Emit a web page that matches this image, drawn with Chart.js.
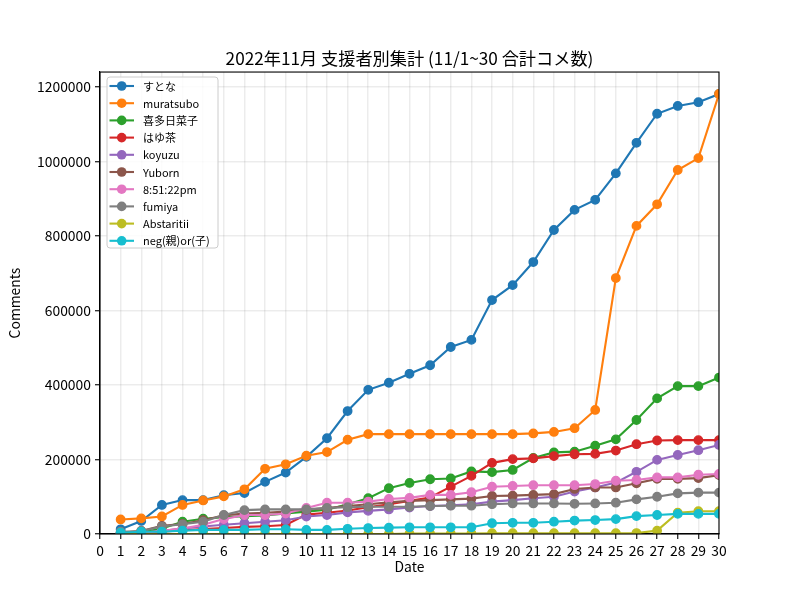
<!DOCTYPE html>
<html>
<head>
<meta charset="utf-8">
<script src="https://cdn.jsdelivr.net/npm/chart.js@4"></script>
<style>
  html, body { margin: 0; padding: 0; background: #fff; }
  #wrap { width: 800px; height: 600px; }
</style>
</head>
<body>
<div id="wrap"><canvas id="c" width="800" height="600"></canvas></div>
<script>
const days = [1,2,3,4,5,6,7,8,9,10,11,12,13,14,15,16,17,18,19,20,21,22,23,24,25,26,27,28,29,30];
const xTicks = [0,1,2,3,4,5,6,7,8,9,10,11,12,13,14,15,16,17,18,19,20,21,22,23,24,25,26,27,28,29,30];
const yTicks = [0,200000,400000,600000,800000,1000000,1200000];
const seriesNames = ['すとな','muratsubo','喜多日菜子','はゆ茶','koyuzu','Yuborn','8:51:22pm','fumiya','Abstaritii','neg(親)or(子)'];

const sutona    = [12600,35000,78000,91000,91000,104000,110000,140000,165000,207000,257000,330000,387000,406000,430000,453000,502000,521000,628000,668000,730000,816000,870000,897000,968000,1050000,1128000,1149000,1159000,1181000];
const muratsubo = [39000,42000,47000,78000,90000,101000,120000,175000,187000,210000,220000,253000,268000,268000,268000,268000,268000,268000,268000,268000,270000,274000,284000,333000,687000,827000,885000,977000,1009000,1181000];
const kita      = [2000,4000,15000,33000,41000,45000,48000,50000,55000,60000,65000,80000,96000,123000,137000,147000,149000,168000,166000,172000,204000,219000,221000,237000,254000,306000,364000,397000,397000,420000];
const hayu      = [1000,3000,6000,10000,13000,16000,19000,21000,24000,52000,57000,63000,72000,80000,89000,98000,127000,156000,191000,201000,203000,209000,214000,215000,224000,241000,251000,252000,252000,252000];
const koyuzu    = [1000,3000,8000,15000,20000,25000,29000,33000,37000,47000,51000,58000,62000,66000,71000,75000,77000,80000,87000,91000,96000,100000,114000,125000,138000,167000,199000,212000,225000,239000];
const yuborn    = [3000,8000,22000,27000,37000,50000,55000,57000,60000,65000,70000,75000,80000,85000,89000,91000,93000,95000,102000,103000,105000,107000,121000,125000,125000,136000,148000,148000,150000,158000];
const pm        = [1000,3000,8000,15000,25000,40000,51000,51000,55000,70000,84000,84000,87000,94000,97000,105000,105000,112000,127000,129000,131000,131000,131000,134000,143000,145000,152000,152000,159000,161000];
const fumiya    = [6000,8000,20000,26000,33000,51000,64000,66000,66000,66000,70000,72000,73000,73000,73000,75000,76000,76000,80000,82000,82000,82000,81000,82000,84000,93000,100000,109000,111000,111000];
const abst      = [0,0,0,0,0,0,0,0,0,0,0,0,0,0,1000,1000,1000,1500,2000,2000,2000,2000,2000,2000,2000,2500,9000,57000,61000,61000];
const neg       = [3500,6000,6000,9000,11000,11000,11000,12600,12600,11000,11000,14000,16000,17000,18000,18000,18000,18000,29000,30000,30000,33000,36000,37500,40000,48000,51000,54000,54000,54000];

const allSeries = [sutona, muratsubo, kita, hayu, koyuzu, yuborn, pm, fumiya, abst, neg];
const colors = ['#1f77b4','#ff7f0e','#2ca02c','#d62728','#9467bd','#8c564b','#e377c2','#7f7f7f','#bcbd22','#17becf'];

const FONT = '"Noto Sans CJK JP", "DejaVu Sans", sans-serif';

const datasets = allSeries.map((vals, i) => ({
  label: seriesNames[i],
  data: days.map((d, j) => ({ x: d, y: vals[j] })),
  borderColor: colors[i],
  backgroundColor: colors[i],
  pointBackgroundColor: colors[i],
  pointBorderColor: colors[i],
  pointBorderWidth: 1.4,
  pointRadius: 4.2,
  pointHoverRadius: 4.2,
  borderWidth: 2.1,
  tension: 0,
  clip: 0,
  order: allSeries.length - 1 - i
}));

const frameAndLegend = {
  id: 'frameAndLegend',
  afterDatasetsDraw(chart) {
    const ctx = chart.ctx;
    const a = chart.chartArea;
    ctx.save();
    ctx.strokeStyle = '#000';
    ctx.lineWidth = 1.1;
    ctx.strokeRect(a.left, a.top, a.right - a.left, a.bottom - a.top);

    // legend
    const bx = 107, by = 77, bw = 111, bh = 171, r = 3;
    ctx.beginPath();
    ctx.moveTo(bx + r, by);
    ctx.lineTo(bx + bw - r, by);
    ctx.arcTo(bx + bw, by, bx + bw, by + r, r);
    ctx.lineTo(bx + bw, by + bh - r);
    ctx.arcTo(bx + bw, by + bh, bx + bw - r, by + bh, r);
    ctx.lineTo(bx + r, by + bh);
    ctx.arcTo(bx, by + bh, bx, by + bh - r, r);
    ctx.lineTo(bx, by + r);
    ctx.arcTo(bx, by, bx + r, by, r);
    ctx.closePath();
    ctx.fillStyle = 'rgba(255,255,255,0.8)';
    ctx.fill();
    ctx.strokeStyle = '#cccccc';
    ctx.lineWidth = 1;
    ctx.stroke();

    ctx.font = '11px ' + FONT;
    ctx.textBaseline = 'middle';
    ctx.textAlign = 'left';
    chart.data.datasets.forEach((ds, i) => {
      const y = 86 + i * 17.2;
      ctx.strokeStyle = ds.borderColor;
      ctx.lineWidth = 2.1;
      ctx.beginPath();
      ctx.moveTo(109.5, y);
      ctx.lineTo(134, y);
      ctx.stroke();
      ctx.fillStyle = ds.borderColor;
      ctx.beginPath();
      ctx.arc(121.7, y, 4.8, 0, Math.PI * 2);
      ctx.fill();
      ctx.fillStyle = '#000';
      ctx.fillText(ds.label, 143, y + 0.5);
    });
    ctx.restore();
  }
};

new Chart(document.getElementById('c'), {
  type: 'line',
  data: { datasets },
  plugins: [frameAndLegend],
  options: {
    responsive: false,
    animation: false,
    events: [],
    layout: { padding: { left: 0, right: 81, top: 0, bottom: 0 } },
    plugins: {
      legend: { display: false },
      tooltip: { enabled: false },
      title: {
        display: true,
        text: '2022年11月 支援者別集計 (11/1~30 合計コメ数)',
        color: '#000',
        fullSize: false,
        font: { family: FONT, size: 17.2, weight: 'normal' },
        padding: { top: 48, bottom: 3.4 }
      }
    },
    scales: {
      x: {
        type: 'linear',
        min: 0,
        max: 30,
        afterBuildTicks(scale) { scale.ticks = xTicks.map(v => ({ value: v })); },
        afterFit(scale) { scale.height = 66; },
        ticks: {
          color: '#000',
          autoSkip: false,
          maxRotation: 0,
          padding: 3,
          font: { family: FONT, size: 13.9 },
          callback: v => String(v)
        },
        grid: {
          color: 'rgba(0,0,0,0.075)',
          lineWidth: 1.5,
          tickColor: '#000',
          tickLength: 5,
          tickWidth: 1.1
        },
        border: { display: true, color: '#000', width: 1.1 },
        title: {
          display: true,
          text: 'Date',
          color: '#000',
          font: { family: FONT, size: 13.9 },
          padding: { top: 0, bottom: 24.7 }
        }
      },
      y: {
        type: 'linear',
        min: 0,
        max: 1240000,
        afterBuildTicks(scale) { scale.ticks = yTicks.map(v => ({ value: v })); },
        afterFit(scale) { scale.width = 100; },
        ticks: {
          color: '#000',
          padding: 4,
          font: { family: FONT, size: 13.9 },
          callback: v => String(v)
        },
        grid: {
          color: 'rgba(0,0,0,0.075)',
          lineWidth: 1.5,
          tickColor: '#000',
          tickLength: 5,
          tickWidth: 1.1
        },
        border: { display: true, color: '#000', width: 1.1 },
        title: {
          display: true,
          text: 'Comments',
          color: '#000',
          font: { family: FONT, size: 13.9 },
          padding: { top: 6.7, bottom: 0 }
        }
      }
    }
  }
});
</script>
</body>
</html>
